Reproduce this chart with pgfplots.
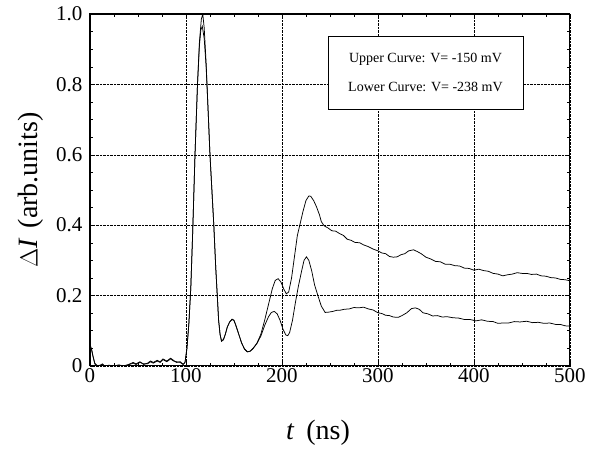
\documentclass[border=0pt]{standalone}
\usepackage{fontspec}
\setmainfont{Liberation Serif}
\usepackage{pgfplots}
\pgfplotsset{compat=1.18}
\begin{document}
\begin{tikzpicture}
\begin{axis}[
  name=ax,
  width=480pt, height=352pt, scale only axis,
  xmin=0, xmax=500, ymin=0, ymax=1.0,
  xtick={0,100,200,300,400,500},
  ytick={0,0.2,0.4,0.6,0.8,1.0},
  yticklabels={0,0.2,0.4,0.6,0.8,1.0},
  minor x tick num=3, minor y tick num=3,
  tick align=inside,
  major tick length=5pt, minor tick length=3pt,
  grid=major,
  major grid style={black, densely dotted, line width=0.5pt},
  axis line style={line width=1.1pt},
  every tick/.style={black, line width=0.5pt},
  /pgf/number format/assume math mode=true,
  tick label style={font=\fontsize{21}{24}\selectfont},
  yticklabel style={xshift=-4pt},
  xticklabel style={yshift=1pt},
  xlabel={\textit{t}\hspace{12pt}(ns)},
  ylabel={$\Delta$\textit{I}\hspace{10pt}(arb.units)},
  label style={font=\fontsize{28}{32}\selectfont},
  xlabel style={at={([xshift=-12pt,yshift=-67pt]axis description cs:0.5,0)}, anchor=center},
  ylabel style={at={([xshift=-59pt]axis description cs:0,0.5)}, anchor=center},
]
% Upper curve, V = -150 mV
\addplot[black, line width=0.75pt] coordinates {
(0,0.06)(1.5,0.05)(3,0.03)(5,0.008)(7,0.002)(10,0.0)(13,0.006)(15,0.0)(20,0.002)(25,0.0)
(30,0.003)(35,0.0)(40,0.004)(45,0.01)(48,0.006)(52,0.012)(56,0.004)(60,0.008)(63,0.014)
(66,0.01)(70,0.016)(73,0.012)(76,0.02)(80,0.014)(84,0.022)(87,0.016)(90,0.01)(94,0.012)
(97,0.005)(99,0.01)(101,0.05)(103,0.12)(105,0.22)(107,0.38)(109.4,0.6)(112,0.8)(114,0.92)
(116,0.985)(117.5,1.0)(119,0.96)(121,0.86)(123,0.73)(125,0.6)(127,0.5)(129,0.4)(131,0.28)
(132.6,0.2)(134,0.13)(135.5,0.09)(137,0.072)(139,0.075)(141,0.09)(143,0.11)(145.5,0.125)
(148,0.133)(150,0.13)(152,0.115)(155,0.09)(158,0.065)(161,0.048)(164,0.04)(167,0.042)
(170,0.05)(174,0.065)(178,0.09)(182,0.13)(186,0.175)(190,0.22)(193,0.243)(196,0.248)
(199,0.238)(202,0.218)(204.5,0.205)(207,0.21)(210,0.25)(213,0.31)(216,0.37)(219,0.405)
(222,0.44)(225,0.47)(228,0.483)(230,0.482)(233,0.47)(236,0.452)(239,0.43)(241,0.41)
(244,0.398)(248,0.392)(252,0.384)(256,0.383)(260,0.376)(264,0.371)(268,0.36)(272,0.357)
(276,0.351)(281,0.35)(285,0.344)(290,0.339)(295,0.332)(300,0.327)(304,0.321)(308,0.319)
(312,0.311)(316,0.309)(320,0.31)(324,0.316)(328,0.319)(332,0.327)(337,0.33)(341,0.325)
(345,0.319)(350,0.309)(355,0.304)(360,0.297)(365,0.296)(370,0.289)(375,0.289)(380,0.285)
(385,0.284)(390,0.278)(395,0.277)(400,0.272)(405,0.275)(410,0.271)(415,0.269)(420,0.263)
(425,0.261)(430,0.256)(435,0.259)(440,0.261)(445,0.265)(450,0.263)(455,0.263)(460,0.26)
(465,0.261)(470,0.256)(475,0.255)(480,0.251)(485,0.25)(490,0.246)(495,0.245)(500,0.242)
};
% Lower curve, V = -238 mV
\addplot[black, line width=0.75pt] coordinates {
(0,0.055)(1.5,0.048)(3,0.028)(5,0.006)(7,0.0)(10,0.002)(13,0.004)(15,0.0)(20,0.001)(25,0.0)
(30,0.002)(35,0.0)(40,0.003)(45,0.008)(48,0.004)(52,0.01)(56,0.006)(60,0.006)(63,0.012)
(66,0.008)(70,0.014)(73,0.01)(76,0.018)(80,0.012)(84,0.02)(87,0.014)(90,0.012)(94,0.01)
(97,0.004)(99,0.01)(101,0.05)(103,0.12)(105,0.22)(107,0.38)(109.4,0.6)(112,0.8)(114,0.91)
(115.5,0.955)(117,0.965)(119,0.93)(121,0.85)(123,0.73)(125,0.6)(127,0.5)(129,0.4)(131,0.28)
(132.6,0.2)(134,0.13)(135.5,0.09)(137,0.07)(139,0.074)(141,0.09)(143,0.11)(145.5,0.125)
(148,0.132)(150,0.129)(152,0.115)(155,0.09)(158,0.065)(161,0.048)(164,0.04)(167,0.042)
(170,0.05)(174,0.064)(178,0.085)(182,0.115)(186,0.14)(189,0.152)(192,0.155)(195,0.148)
(198,0.13)(201,0.105)(204,0.088)(206,0.086)(208,0.095)(211,0.13)(214,0.18)(217,0.225)
(220.5,0.27)(223,0.3)(225.5,0.31)(228,0.3)(231,0.27)(234,0.23)(238,0.195)(241,0.17)
(245,0.152)(249,0.153)(253,0.155)(257,0.158)(260,0.158)(265,0.161)(270,0.162)(275,0.166)
(280,0.165)(285,0.167)(290,0.162)(295,0.159)(300,0.151)(304,0.149)(308,0.144)(312,0.143)
(316,0.139)(321,0.138)(325,0.143)(330,0.151)(335,0.163)(339,0.165)(343,0.161)(347,0.151)
(352,0.148)(357,0.142)(362,0.143)(367,0.139)(372,0.14)(378,0.137)(384,0.136)(390,0.132)
(396,0.132)(402,0.128)(408,0.131)(414,0.127)(420,0.126)(425,0.121)(430,0.122)(436,0.122)
(442,0.126)(448,0.125)(455,0.127)(461,0.123)(467,0.124)(473,0.121)(479,0.122)(485,0.118)
(490,0.118)(495,0.114)(500,0.113)
};
\node[draw=black, line width=0.8pt, fill=white, minimum width=195pt, minimum height=73pt,
      align=center, font=\fontsize{14}{29}\selectfont]
  at (axis cs:349.5,0.833) {Upper Curve: V= -150 mV\\Lower Curve: V= -238 mV};
\end{axis}
\path ([shift={(-90pt,-85pt)}]ax.south west) rectangle ([shift={(19pt,14pt)}]ax.north east);
\end{tikzpicture}
\end{document}
